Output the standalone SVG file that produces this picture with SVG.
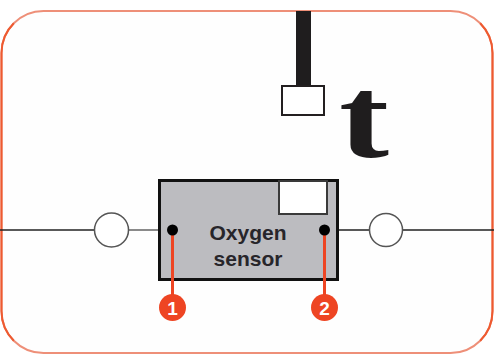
<svg xmlns="http://www.w3.org/2000/svg" width="494" height="361" viewBox="0 0 494 361">
<style>
.wire{fill:none;stroke:#222;stroke-width:1.3}
.lead{fill:none;stroke:#ee4523;stroke-width:3}
.badge{fill:#ee4523}
.num{font:bold 19px "Liberation Sans",Arial,sans-serif;fill:#fff;text-anchor:middle}
.lbl{font:bold 21px "Liberation Sans",Arial,sans-serif;fill:#27252a;text-anchor:middle}
.ring{fill:#fff;stroke:#555;stroke-width:1.5}
.edge{fill:none;stroke:#ee5a30;stroke-width:2}
</style>
<rect width="494" height="361" fill="#fff"/>
<rect id="frame" x="1.500" y="11" width="491" height="342" rx="42" ry="42" fill="#fefefe" stroke="#ee8f78" stroke-width="2"/>
<path class="edge" d="M13.800 23.300A42 42 0 0 0 1.500 53V311A42 42 0 0 0 13.800 340.700"/>
<path class="edge" d="M480.200 23.300A42 42 0 0 1 492.500 53V311A42 42 0 0 1 480.200 340.700"/>
<g id="connectors">
<path class="wire" d="M0 230H95"/>
<path d="M128 230H160" fill="none" stroke="#8a8a8a" stroke-width="2"/>
<path class="wire" d="M338 230H370M402 230H494"/>
</g>
<g id="probe">
<rect x="296" y="11" width="15" height="75" fill="#1f1d1e"/>
<rect x="282" y="86" width="42" height="29" fill="#fff" stroke="#231f20" stroke-width="2"/>
<text transform="translate(339 157) scale(1.5 1.16)" font-family="'Liberation Serif','Times New Roman',serif" font-weight="bold" font-size="100" fill="#1f1d1e">t</text>
</g>
<g id="ring-left"><circle class="ring" cx="111.500" cy="230" r="17"/></g>
<g id="ring-right"><circle class="ring" cx="386" cy="230" r="16.500"/></g>
<g id="sensor">
<rect x="159.500" y="180.500" width="178" height="99" fill="#bcbcc0" stroke="#111" stroke-width="3"/>
<rect x="279" y="181" width="48" height="33" fill="#fff" stroke="#3a3a3a" stroke-width="2"/>
<text class="lbl" x="248" y="240">Oxygen</text>
<text class="lbl" x="248" y="266">sensor</text>
</g>
<g id="badge-1"><path class="lead" d="M172.500 231V298"/><circle cx="172.500" cy="230" r="5.500" fill="#000"/><circle class="badge" cx="172.500" cy="307.500" r="13.500"/><text class="num" x="172.500" y="314.500">1</text></g>
<g id="badge-2"><path class="lead" d="M324.500 231V298"/><circle cx="324.500" cy="230" r="5.500" fill="#000"/><circle class="badge" cx="324.500" cy="307.500" r="13.500"/><text class="num" x="324.500" y="314.500">2</text></g>
</svg>
